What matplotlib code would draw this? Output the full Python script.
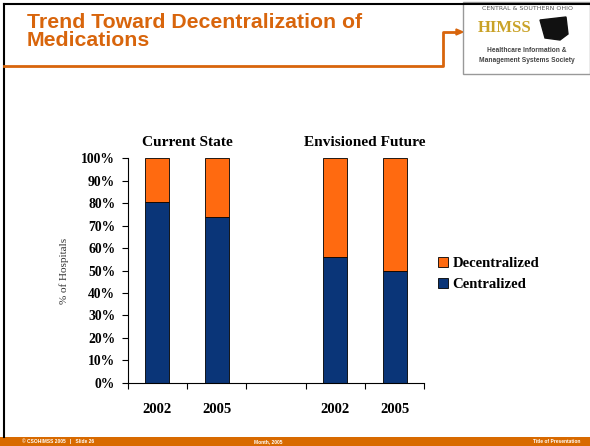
import numpy as np
import matplotlib.pyplot as plt
from matplotlib.patches import Rectangle, Polygon
from matplotlib.lines import Line2D

# data
years = ['2002', '2005', '2002', '2005']
slots = [0, 1, 3, 4]
centralized = [80.5, 74, 56, 50]
decentralized = [19.5, 26, 44, 50]
groups = ['Current State', 'Envisioned Future']
group_centers = [1.0, 4.0]
yticks = [0, 10, 20, 30, 40, 50, 60, 70, 80, 90, 100]

blue = '#0a3578'
orange = '#ff6a10'
slide_orange = '#d8650c'
serif = 'Liberation Serif'

fig = plt.figure(figsize=(5.9, 4.46), dpi=100)

# slide frame
fig.add_artist(Line2D([4 / 590, 4 / 590], [1 - 4 / 446, 1 - 437 / 446], color='black', lw=1.5))
fig.add_artist(Line2D([4 / 590, 1], [1 - 4 / 446, 1 - 4 / 446], color='black', lw=1.5))
fig.add_artist(Line2D([4 / 590, 443 / 590, 443 / 590, 458 / 590],
                      [1 - 66 / 446, 1 - 66 / 446, 1 - 32 / 446, 1 - 32 / 446],
                      color=slide_orange, lw=2))
fig.add_artist(Polygon([[456 / 590, 1 - 29 / 446], [463 / 590, 1 - 32 / 446], [456 / 590, 1 - 35 / 446]],
                       closed=True, color=slide_orange))
fig.text(27 / 590, 1 - 13 / 446, 'Trend Toward Decentralization of\nMedications', color=slide_orange,
         fontsize=15.3, fontweight='bold', family='Liberation Sans', va='top', ha='left', linespacing=0.92)

# logo
fig.add_artist(Rectangle((463 / 590, 1 - 74 / 446), 127 / 590, 72 / 446, facecolor='white',
                         edgecolor='#999999', lw=1))
fig.text(527 / 590, 1 - 8 / 446, 'CENTRAL & SOUTHERN OHIO', fontsize=4.5, color='#555555',
         ha='center', va='center', family='Liberation Sans Narrow')
fig.text(505 / 590, 1 - 28 / 446, 'HIMSS', fontsize=12, color='#c9a227', fontweight='bold',
         ha='center', va='center', family=serif)
fig.add_artist(Polygon([[540 / 590, 1 - 20 / 446], [566 / 590, 1 - 17 / 446], [568 / 590, 1 - 34 / 446],
                        [560 / 590, 1 - 40 / 446], [545 / 590, 1 - 38 / 446]], closed=True, color='#111111'))
fig.text(527 / 590, 1 - 50 / 446, 'Healthcare Information &', fontsize=4.8, color='#444444',
         fontweight='bold', ha='center', va='center', family='Liberation Sans')
fig.text(527 / 590, 1 - 61 / 446, 'Management Systems Society', fontsize=4.8, color='#444444',
         fontweight='bold', ha='center', va='center', family='Liberation Sans')

# footer band
fig.add_artist(Rectangle((0, 0), 1, 9 / 446, facecolor='#d86a00', edgecolor='none'))
fig.text(22 / 590, 4.5 / 446, '\u00a9 CSOHIMSS 2005   |   Slide 26', fontsize=3.5, color='white',
         fontweight='bold', va='center', ha='left', family='Liberation Sans')
fig.text(268 / 590, 4.5 / 446, 'Month, 2005', fontsize=3.5, color='white',
         fontweight='bold', va='center', ha='center', family='Liberation Sans')
fig.text(580 / 590, 4.5 / 446, 'Title of Presentation', fontsize=3.5, color='white',
         fontweight='bold', va='center', ha='right', family='Liberation Sans')

# chart
ax = fig.add_axes([127.7 / 590, 1 - 382.7 / 446, 296.6 / 590, 224.4 / 446])
ax.bar(slots, centralized, width=0.4, color=blue, edgecolor='black', linewidth=0.6, label='Centralized')
ax.bar(slots, decentralized, width=0.4, bottom=centralized, color=orange, edgecolor='black',
       linewidth=0.6, label='Decentralized')

ax.set_xlim(-0.5, 4.5)
ax.set_ylim(0, 100)
for s in ['top', 'right']:
    ax.spines[s].set_visible(False)
ax.spines['left'].set_linewidth(0.8)
ax.spines['bottom'].set_linewidth(0.8)

ax.set_yticks(yticks)
ax.set_yticklabels([str(v) + '%' for v in yticks], fontsize=9.8, fontweight='bold', family=serif)
ax.set_xticks(np.arange(-0.5, 5, 1))
ax.set_xticklabels([])
ax.set_xticks(slots, minor=True)
ax.set_xticklabels(years, minor=True, fontsize=10.5, fontweight='bold', family=serif)
ax.tick_params(axis='x', which='major', direction='out', length=4, width=0.8)
ax.tick_params(axis='x', which='minor', length=0, pad=14.5)
ax.tick_params(axis='y', direction='out', length=4, width=0.8, pad=5)

for g, c in zip(groups, group_centers):
    ax.text(c - 0.5, 104, g, ha='center', va='bottom', fontsize=11.1, fontweight='bold', family=serif)

ax.set_ylabel('% of Hospitals', fontsize=8, family=serif, color='#333333', labelpad=9)

handles, labels = ax.get_legend_handles_labels()
leg = ax.legend(handles[::-1], labels[::-1], loc='center left', bbox_to_anchor=(1.0, 0.485),
                frameon=False, prop={'family': serif, 'weight': 'bold', 'size': 10.6},
                handlelength=0.7, handleheight=0.7, handletextpad=0.3, labelspacing=0.5)

fig.savefig('out.png', dpi=100)
